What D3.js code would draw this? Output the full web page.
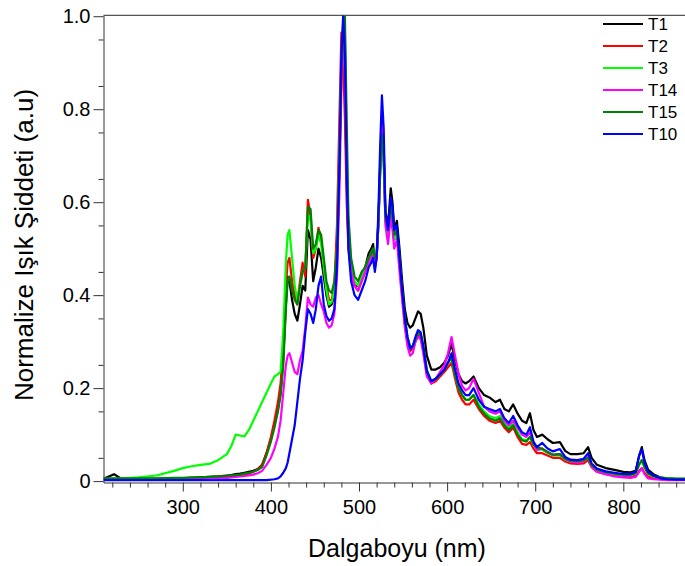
<!DOCTYPE html>
<html>
<head>
<meta charset="utf-8">
<script src="https://cdnjs.cloudflare.com/ajax/libs/d3/7.8.5/d3.min.js"></script>
<style>
  body { margin: 0; background: #fff; }
  text { font-family: Arial, "Liberation Sans", sans-serif; }
</style>
</head>
<body>
<div id="chart"></div>
<script>
// wavelengths (nm), shared by every series
var wavelengths = [
  210, 222, 230, 250, 270, 290, 300, 310, 320, 330,
  340, 350, 355, 360, 365, 370, 375, 380, 385, 390,
  395, 400, 404, 408, 411, 414, 417, 419, 421, 424,
  427, 430, 433, 436, 439, 442, 445, 448, 451, 454,
  457, 460, 463, 466, 469, 472, 475, 478, 480, 482,
  484, 486, 488, 491, 495, 499, 503, 507, 511, 514,
  516, 518, 520, 522, 524, 526, 528, 530, 533, 536,
  538, 540, 543, 546, 549, 552, 555, 558, 561, 564,
  567, 570, 573, 577, 582, 587, 592, 597, 601, 605,
  609, 613, 617, 621, 625, 630, 636, 642, 648, 655,
  660, 665, 670, 675, 680, 685, 690, 694, 698, 702,
  708, 714, 720, 728, 734, 740, 748, 755, 760, 764,
  770, 780, 790, 800, 808, 814, 818, 821, 824, 828,
  834, 842, 850, 860, 870
];

var t1 = [
  0.005, 0.015, 0.005, 0.005, 0.005, 0.006, 0.006, 0.007, 0.008, 0.009,
  0.010, 0.012, 0.013, 0.015, 0.016, 0.018, 0.020, 0.022, 0.026, 0.035,
  0.060, 0.090, 0.120, 0.155, 0.190, 0.260, 0.380, 0.440, 0.430, 0.390,
  0.360, 0.345, 0.380, 0.420, 0.410, 0.540, 0.520, 0.430, 0.460, 0.500,
  0.480, 0.440, 0.400, 0.375, 0.380, 0.400, 0.480, 0.700, 0.880, 0.940,
  0.850, 0.650, 0.520, 0.450, 0.420, 0.420, 0.440, 0.460, 0.490, 0.500,
  0.510, 0.470, 0.480, 0.550, 0.680, 0.780, 0.720, 0.580, 0.550, 0.630,
  0.600, 0.540, 0.560, 0.500, 0.430, 0.370, 0.340, 0.330, 0.335, 0.350,
  0.365, 0.360, 0.330, 0.270, 0.240, 0.240, 0.245, 0.255, 0.270, 0.295,
  0.260, 0.230, 0.215, 0.210, 0.215, 0.225, 0.200, 0.185, 0.180, 0.170,
  0.175, 0.155, 0.150, 0.165, 0.145, 0.130, 0.125, 0.146, 0.110, 0.095,
  0.100, 0.090, 0.082, 0.084, 0.065, 0.058, 0.058, 0.060, 0.073, 0.050,
  0.035, 0.028, 0.024, 0.020, 0.019, 0.022, 0.055, 0.073, 0.045, 0.025,
  0.015, 0.008, 0.006, 0.005, 0.005
];

var t2 = [
  0.004, 0.004, 0.004, 0.004, 0.005, 0.005, 0.005, 0.006, 0.007, 0.008,
  0.009, 0.010, 0.011, 0.012, 0.013, 0.014, 0.016, 0.020, 0.025, 0.034,
  0.060, 0.095, 0.130, 0.170, 0.210, 0.290, 0.420, 0.470, 0.480, 0.430,
  0.400, 0.380, 0.430, 0.470, 0.440, 0.605, 0.570, 0.480, 0.500, 0.545,
  0.520, 0.470, 0.420, 0.390, 0.390, 0.420, 0.550, 0.800, 0.965, 0.900,
  0.780, 0.600, 0.500, 0.450, 0.420, 0.410, 0.430, 0.450, 0.470, 0.480,
  0.490, 0.460, 0.480, 0.560, 0.680, 0.755, 0.700, 0.560, 0.530, 0.590,
  0.560, 0.520, 0.540, 0.470, 0.400, 0.340, 0.300, 0.280, 0.285, 0.300,
  0.315, 0.310, 0.280, 0.230, 0.210, 0.215, 0.225, 0.235, 0.245, 0.255,
  0.220, 0.190, 0.175, 0.165, 0.165, 0.175, 0.155, 0.140, 0.130, 0.125,
  0.130, 0.115, 0.105, 0.115, 0.095, 0.080, 0.078, 0.084, 0.070, 0.060,
  0.060, 0.055, 0.050, 0.050, 0.042, 0.038, 0.037, 0.038, 0.045, 0.030,
  0.020, 0.015, 0.012, 0.010, 0.010, 0.012, 0.022, 0.028, 0.018, 0.010,
  0.006, 0.004, 0.003, 0.003, 0.003
];

var t3 = [
  0.005, 0.005, 0.006, 0.008, 0.012, 0.022, 0.028, 0.032, 0.035, 0.037,
  0.045, 0.058, 0.075, 0.100, 0.098, 0.096, 0.110, 0.130, 0.150, 0.170,
  0.190, 0.210, 0.225, 0.230, 0.235, 0.320, 0.470, 0.530, 0.540, 0.480,
  0.420, 0.390, 0.420, 0.450, 0.460, 0.575, 0.560, 0.490, 0.500, 0.530,
  0.510, 0.460, 0.410, 0.380, 0.385, 0.410, 0.500, 0.720, 0.900, 0.990,
  0.950, 0.720, 0.550, 0.470, 0.430, 0.420, 0.440, 0.460, 0.480, 0.490,
  0.500, 0.470, 0.490, 0.550, 0.660, 0.740, 0.690, 0.560, 0.530, 0.580,
  0.560, 0.520, 0.530, 0.470, 0.400, 0.340, 0.305, 0.285, 0.290, 0.305,
  0.320, 0.315, 0.285, 0.235, 0.215, 0.220, 0.230, 0.240, 0.255, 0.265,
  0.230, 0.200, 0.185, 0.175, 0.175, 0.185, 0.165, 0.150, 0.140, 0.135,
  0.140, 0.125, 0.115, 0.125, 0.105, 0.090, 0.088, 0.095, 0.078, 0.068,
  0.068, 0.060, 0.055, 0.056, 0.046, 0.042, 0.041, 0.043, 0.050, 0.033,
  0.024, 0.018, 0.015, 0.013, 0.013, 0.016, 0.035, 0.045, 0.030, 0.016,
  0.010, 0.007, 0.006, 0.005, 0.005
];

var t14 = [
  0.003, 0.003, 0.003, 0.003, 0.004, 0.004, 0.004, 0.005, 0.005, 0.006,
  0.006, 0.007, 0.008, 0.009, 0.010, 0.011, 0.012, 0.014, 0.017, 0.022,
  0.035, 0.050, 0.070, 0.095, 0.130, 0.190, 0.250, 0.270, 0.275, 0.255,
  0.235, 0.230, 0.260, 0.280, 0.330, 0.395, 0.380, 0.375, 0.395, 0.400,
  0.380, 0.365, 0.340, 0.330, 0.335, 0.360, 0.440, 0.640, 0.850, 0.950,
  0.880, 0.680, 0.520, 0.450, 0.420, 0.410, 0.430, 0.450, 0.470, 0.480,
  0.490, 0.460, 0.480, 0.550, 0.670, 0.765, 0.710, 0.550, 0.510, 0.570,
  0.540, 0.500, 0.520, 0.450, 0.390, 0.330, 0.290, 0.270, 0.275, 0.300,
  0.310, 0.305, 0.275, 0.225, 0.210, 0.220, 0.235, 0.250, 0.275, 0.310,
  0.270, 0.230, 0.205, 0.195, 0.200, 0.220, 0.190, 0.160, 0.150, 0.145,
  0.150, 0.130, 0.120, 0.130, 0.115, 0.100, 0.095, 0.105, 0.080, 0.067,
  0.070, 0.062, 0.056, 0.058, 0.047, 0.042, 0.040, 0.042, 0.052, 0.032,
  0.020, 0.015, 0.010, 0.008, 0.007, 0.009, 0.020, 0.028, 0.015, 0.006,
  0.004, 0.003, 0.002, 0.002, 0.002
];

var t15 = [
  0.006, 0.006, 0.006, 0.006, 0.006, 0.007, 0.007, 0.008, 0.008, 0.009,
  0.010, 0.011, 0.012, 0.013, 0.014, 0.016, 0.018, 0.020, 0.024, 0.030,
  0.055, 0.085, 0.115, 0.150, 0.185, 0.250, 0.370, 0.430, 0.440, 0.410,
  0.390, 0.380, 0.420, 0.450, 0.460, 0.590, 0.585, 0.500, 0.510, 0.540,
  0.530, 0.480, 0.430, 0.410, 0.405, 0.430, 0.500, 0.700, 0.880, 0.960,
  1.000, 0.780, 0.570, 0.480, 0.440, 0.430, 0.450, 0.460, 0.480, 0.490,
  0.500, 0.480, 0.490, 0.560, 0.660, 0.745, 0.700, 0.570, 0.540, 0.590,
  0.570, 0.530, 0.540, 0.480, 0.410, 0.350, 0.310, 0.290, 0.290, 0.305,
  0.320, 0.315, 0.290, 0.240, 0.215, 0.220, 0.230, 0.240, 0.255, 0.265,
  0.230, 0.200, 0.185, 0.175, 0.175, 0.185, 0.160, 0.145, 0.135, 0.130,
  0.135, 0.120, 0.110, 0.120, 0.100, 0.088, 0.085, 0.095, 0.080, 0.072,
  0.070, 0.063, 0.057, 0.058, 0.048, 0.044, 0.043, 0.045, 0.050, 0.035,
  0.025, 0.019, 0.016, 0.014, 0.014, 0.017, 0.036, 0.045, 0.030, 0.017,
  0.011, 0.007, 0.006, 0.005, 0.005
];

var t10 = [
  0.002, 0.002, 0.002, 0.002, 0.002, 0.002, 0.002, 0.002, 0.002, 0.002,
  0.002, 0.002, 0.002, 0.002, 0.002, 0.002, 0.002, 0.002, 0.002, 0.002,
  0.002, 0.003, 0.004, 0.006, 0.010, 0.018, 0.028, 0.040, 0.060, 0.090,
  0.120, 0.170, 0.220, 0.260, 0.320, 0.370, 0.360, 0.340, 0.370, 0.420,
  0.440, 0.380, 0.355, 0.345, 0.350, 0.370, 0.460, 0.700, 0.920, 1.000,
  0.920, 0.660, 0.500, 0.430, 0.400, 0.390, 0.410, 0.430, 0.460, 0.470,
  0.480, 0.450, 0.480, 0.580, 0.720, 0.830, 0.760, 0.580, 0.540, 0.610,
  0.590, 0.540, 0.550, 0.480, 0.410, 0.350, 0.310, 0.285, 0.290, 0.310,
  0.325, 0.320, 0.290, 0.235, 0.215, 0.220, 0.230, 0.240, 0.255, 0.275,
  0.240, 0.210, 0.195, 0.185, 0.185, 0.200, 0.175, 0.160, 0.155, 0.150,
  0.155, 0.135, 0.125, 0.140, 0.120, 0.105, 0.100, 0.116, 0.085, 0.073,
  0.082, 0.070, 0.064, 0.069, 0.052, 0.046, 0.045, 0.048, 0.060, 0.038,
  0.027, 0.021, 0.018, 0.015, 0.015, 0.020, 0.055, 0.068, 0.040, 0.020,
  0.012, 0.006, 0.004, 0.003, 0.003
];

var seriesNames = ["T1", "T2", "T3", "T14", "T15", "T10"];
var seriesValues = [t1, t2, t3, t14, t15, t10];
var seriesColors = ["#000000", "#ff0000", "#00ff00", "#ff00ff", "#008000", "#0000ff"];

var xTicks = [300, 400, 500, 600, 700, 800];
var yTicks = [0, 0.2, 0.4, 0.6, 0.8, 1.0];

// SVG area
var svgWidth = 685;
var svgHeight = 566;

var plot = { left: 103.5, right: 685, top: 15.3, bottom: 482.5 };

var svg = d3.select("#chart")
  .append("svg")
  .attr("width", svgWidth)
  .attr("height", svgHeight);

// scales
var xScale = d3.scaleLinear()
  .domain([210, 870])
  .range([plot.left, plot.right]);

var yScale = d3.scaleLinear()
  .domain([-0.003, 1.002])
  .range([plot.bottom, plot.top]);

svg.append("clipPath")
  .attr("id", "clip")
  .append("rect")
  .attr("x", plot.left)
  .attr("y", plot.top)
  .attr("width", plot.right - plot.left)
  .attr("height", plot.bottom - plot.top);

// minor ticks first, then major ticks with labels
var xMinor = d3.range(220, 871, 20).filter(d => d % 100 !== 0);
var yMinor = d3.range(0.05, 1.0, 0.1);

svg.append("g")
  .attr("transform", `translate(0, ${plot.bottom})`)
  .call(d3.axisBottom(xScale).tickValues(xMinor).tickSize(5).tickFormat(""))
  .call(g => g.select(".domain").remove());

svg.append("g")
  .attr("transform", `translate(${plot.left}, 0)`)
  .call(d3.axisLeft(yScale).tickValues(yMinor).tickSize(5).tickFormat(""))
  .call(g => g.select(".domain").remove());

var xAxis = svg.append("g")
  .attr("transform", `translate(0, ${plot.bottom})`)
  .call(d3.axisBottom(xScale).tickValues(xTicks).tickSize(9).tickPadding(8).tickSizeOuter(0));

var yAxis = svg.append("g")
  .attr("transform", `translate(${plot.left}, 0)`)
  .call(d3.axisLeft(yScale).tickValues(yTicks).tickSize(10).tickPadding(3).tickSizeOuter(0)
    .tickFormat(d => d === 0 ? "0" : d3.format(".1f")(d)));

svg.selectAll(".tick text")
  .attr("font-size", 20)
  .attr("fill", "#000")
  .style("font-family", "Arial, 'Liberation Sans', sans-serif");

svg.selectAll(".tick line, .domain").attr("stroke", "#333");

// top frame line
svg.append("line")
  .attr("x1", plot.left)
  .attr("x2", plot.right)
  .attr("y1", plot.top)
  .attr("y2", plot.top)
  .attr("stroke", "#555")
  .attr("stroke-width", 1.2);

// spectra
var line = d3.line()
  .x((d, i) => xScale(wavelengths[i]))
  .y(d => yScale(d));

svg.append("g")
  .attr("clip-path", "url(#clip)")
  .selectAll("path")
  .data(seriesValues)
  .enter()
  .append("path")
  .attr("d", d => line(d))
  .attr("fill", "none")
  .attr("stroke", (d, i) => seriesColors[i])
  .attr("stroke-width", 2.2)
  .attr("stroke-linejoin", "round");

// axis titles
svg.append("text")
  .attr("x", 397)
  .attr("y", 557)
  .attr("text-anchor", "middle")
  .attr("font-size", 25)
  .text("Dalgaboyu (nm)");

svg.append("text")
  .attr("transform", "translate(33, 245) rotate(-90)")
  .attr("text-anchor", "middle")
  .attr("font-size", 26)
  .text("Normalize Işık Şiddeti (a.u)");

// legend
var legend = svg.append("g")
  .selectAll("g")
  .data(seriesNames)
  .enter()
  .append("g")
  .attr("transform", (d, i) => `translate(603, ${24 + i * 22})`);

legend.append("line")
  .attr("x1", 0)
  .attr("x2", 40)
  .attr("stroke", (d, i) => seriesColors[i])
  .attr("stroke-width", 2);

legend.append("text")
  .attr("x", 45)
  .attr("y", 6)
  .attr("font-size", 17)
  .text(d => d);
</script>
</body>
</html>
